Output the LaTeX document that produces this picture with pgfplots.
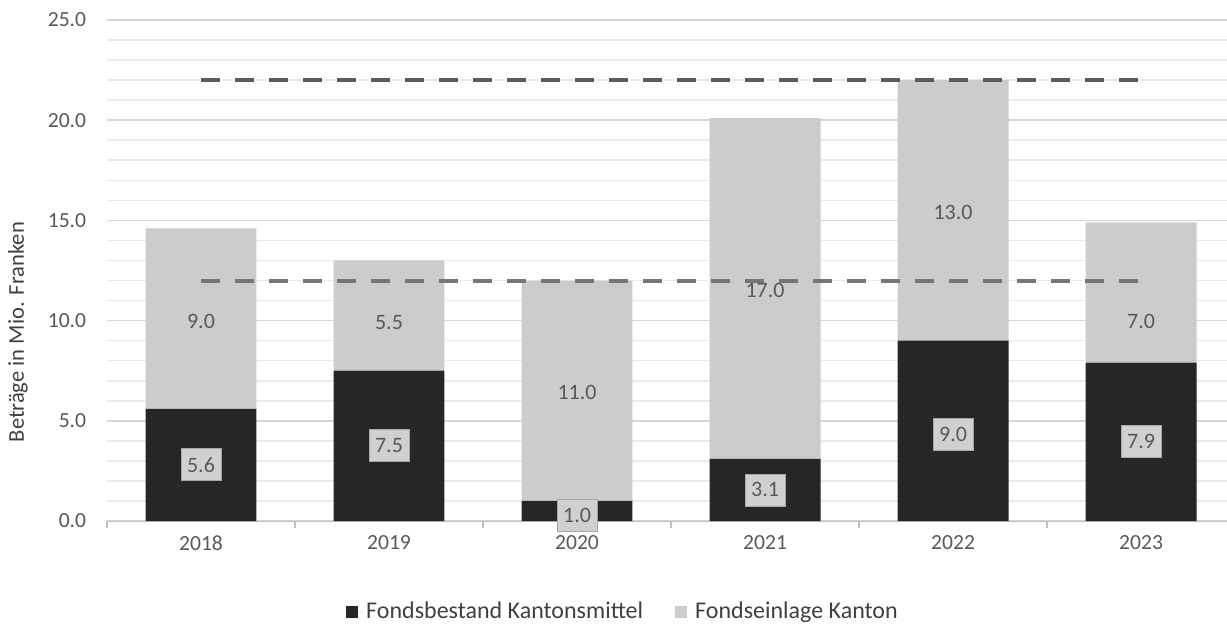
\documentclass[border=0pt]{standalone}
\usepackage{fontspec}
\setmainfont{Carlito}
\usepackage{pgfplots}
\pgfplotsset{compat=1.18}
\definecolor{barblack}{HTML}{262626}
\definecolor{bargray}{HTML}{CCCCCC}
\definecolor{txt}{HTML}{595959}
\definecolor{legtxt}{HTML}{404040}
\definecolor{majgrid}{HTML}{D6D6D6}
\definecolor{mingrid}{HTML}{EBEBEB}
\definecolor{boxgray}{HTML}{D0D0D0}
\definecolor{axisgray}{HTML}{BFBFBF}
\definecolor{dashA}{HTML}{5C5C5C}
\definecolor{dashB}{HTML}{767676}

\begin{document}
\begin{tikzpicture}[font=\fontsize{10.8}{13}\selectfont]
\pgfplotsset{common/.style={scale only axis, width=560pt, height=250.5pt,
  xmin=-0.5, xmax=5.457, ymin=0, ymax=25}}
\begin{axis}[common,
  ybar stacked, bar width=0.59,
  axis x line*=bottom, axis y line*=left,
  x axis line style={draw=axisgray},
  y axis line style={draw=none},
  major tick length=0pt, tick style={draw=none},
  xtick={0,1,2,3,4,5},
  xticklabels={2018,2019,2020,2021,2022,2023},
  xticklabel style={text=txt, yshift=-3.8pt},
  ytick={0,5,10,15,20,25},
  yticklabels={0.0,5.0,10.0,15.0,20.0,25.0},
  yticklabel style={text=txt, xshift=-6.9pt},
  minor y tick num=4,
  ymajorgrids, yminorgrids,
  major grid style={draw=majgrid, line width=0.8pt},
  minor grid style={draw=mingrid, line width=0.8pt},
  ylabel={Beträge in Mio. Franken},
  ylabel style={at={(axis description cs:-0.0795,0.377)}, anchor=center, text=legtxt, font=\fontsize{11.3}{13}\selectfont},
  legend style={at={(axis description cs:0.4616,-0.1816)}, anchor=center, draw=none, fill=none,
    legend columns=2, font=\fontsize{12}{14}\selectfont, text=legtxt,
    /tikz/every even column/.append style={column sep=14pt}},
  legend cell align=left,
]
\addplot[fill=barblack, draw=none,
  legend image code/.code={\fill[barblack] (0pt,-3pt) rectangle (6pt,3pt); \path (0pt,0pt) -- (8pt,0pt);}]
  coordinates {(0,5.6) (1,7.5) (2,1.0) (3,3.1) (4,9.0) (5,7.9)};
\addplot[fill=bargray, draw=none,
  legend image code/.code={\fill[bargray] (0pt,-3pt) rectangle (6pt,3pt); \path (0pt,0pt) -- (8pt,0pt);}]
  coordinates {(0,9.0) (1,5.5) (2,11.0) (3,17.0) (4,13.0) (5,7.0)};
\legend{Fondsbestand Kantonsmittel, Fondseinlage Kanton}
\end{axis}

\begin{axis}[common, hide axis, clip=false]
\pgfplotsinvokeforeach{-0.5,0.5,1.5,2.5,3.5,4.5}{
  \draw[axisgray, line width=0.8pt] (axis cs:#1,0) -- ([yshift=-3.5pt]axis cs:#1,0);
}
\addplot[dashA, line width=2pt, dash pattern=on 9.5pt off 7.5pt]
  coordinates {(0,22) (5,22)};
\addplot[dashB, line width=2pt, dash pattern=on 9.5pt off 7.5pt]
  coordinates {(0,12) (5,12)};
\addplot[draw=none, nodes near coords, point meta=explicit symbolic,
  nodes near coords align=center,
  every node near coord/.append style={text=txt, font=\fontsize{11}{13}\selectfont}]
  coordinates {(0,9.95)[9.0] (1,9.9)[5.5] (2,6.4)[11.0] (3,11.5)[17.0] (4,15.4)[13.0] (5,9.95)[7.0]};
\addplot[draw=none, nodes near coords, point meta=explicit symbolic,
  nodes near coords align=center,
  every node near coord/.append style={text=txt, font=\fontsize{11}{13}\selectfont,
    fill=boxgray, draw=black!35, line width=0.4pt, minimum width=20pt, minimum height=16pt, inner sep=0pt}]
  coordinates {(0,2.8)[5.6] (1,3.75)[7.5] (2,0.3)[1.0] (3,1.55)[3.1] (4,4.3)[9.0] (5,3.95)[7.9]};
\end{axis}
\pgfresetboundingbox
\useasboundingbox (-53.5pt,-51pt) rectangle (560pt,260.5pt);
\end{tikzpicture}
\end{document}
